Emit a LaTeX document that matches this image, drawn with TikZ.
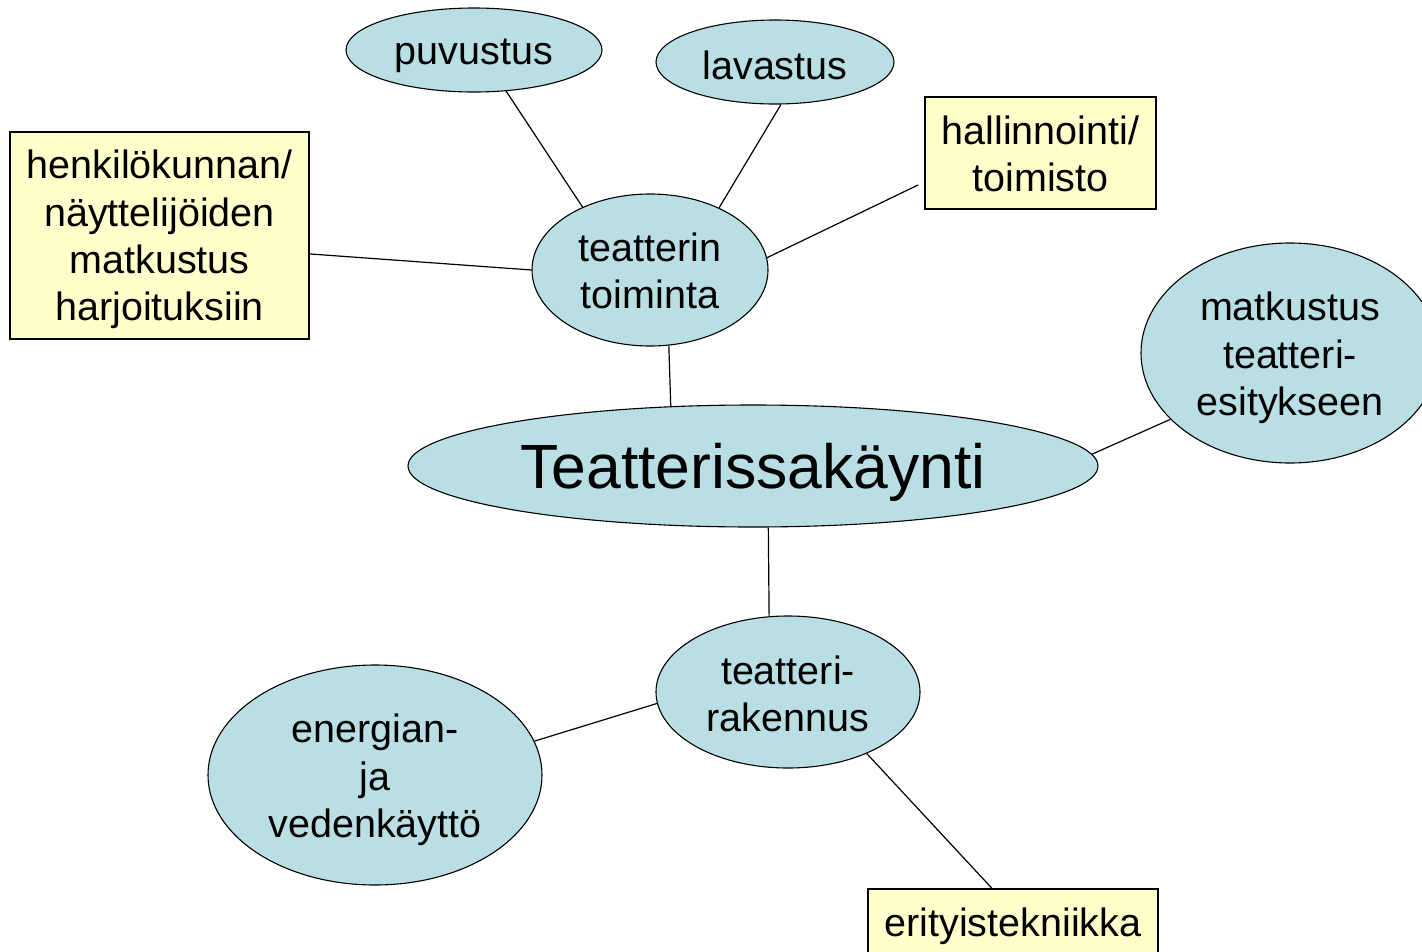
\documentclass[tikz,border=0pt]{standalone}
\usepackage{fontspec}
\setmainfont{Liberation Sans}
\usetikzlibrary{shapes.geometric}
\definecolor{ellfill}{RGB}{185,223,228}
\definecolor{boxfill}{RGB}{255,255,204}
\begin{document}
\begin{tikzpicture}[x=1pt,y=-1pt,
  ell/.style={ellipse,draw=black,line width=1.1pt,fill=ellfill,inner sep=0pt},
  bx/.style={rectangle,draw=black,line width=1.1pt,fill=boxfill,inner sep=0pt},
  txt/.style={align=center,inner sep=0pt,font=\fontsize{39.5}{47.3}\selectfont},
  bigtxt/.style={align=center,inner sep=0pt,font=\fontsize{62.5}{70}\selectfont},
  conn/.style={draw=black,line width=1.2pt}]
\useasboundingbox (0,0) rectangle (1422,951);
\clip (0,0) rectangle (1422,951);
\node[ell,minimum width=256pt,minimum height=84pt,
  label={[txt,yshift=-6pt]center:puvustus}] (puv) at (474,50) {};
\node[ell,minimum width=238pt,minimum height=84pt,
  label={[txt,yshift=-3pt]center:lavastus}] (lav) at (775,62) {};
\node[bx,minimum width=231pt,minimum height=112pt,
  label={[txt,yshift=-1pt]center:{hallinnointi/\\toimisto}}] (hal) at (1040.5,153) {};
\node[bx,minimum width=299pt,minimum height=207pt,
  label={[txt,yshift=-4pt]center:{henkilökunnan/\\näyttelijöiden\\matkustus\\harjoituksiin}}] (hen) at (159.5,235.5) {};
\node[ell,minimum width=236pt,minimum height=152pt,
  label={[txt,yshift=-1pt]center:{teatterin\\toiminta}}] (tt) at (650,270) {};
\node[ell,minimum width=298pt,minimum height=220pt,
  label={[txt,yshift=-5pt]center:{matkustus\\teatteri-\\esitykseen}}] (mat) at (1290,353) {};
\node[ell,minimum width=690pt,minimum height=122pt,
  label={[bigtxt,yshift=-6pt]center:Teatterissakäynti}] (T) at (753,466) {};
\node[ell,minimum width=264pt,minimum height=152pt,
  label={[txt,yshift=-2pt]center:{teatteri-\\rakennus}}] (rak) at (788,692) {};
\node[ell,minimum width=334pt,minimum height=220pt,
  label={[txt,yshift=-5pt]center:{energian-\\ja\\vedenkäyttö}}] (ene) at (375,775) {};
\node[bx,minimum width=290pt,minimum height=66pt,
  label={[txt,yshift=-4pt]center:erityistekniikka}] (eri) at (1013,922) {};
\draw[conn] (puv.-52) -- (tt.137);
\draw[conn] (lav.-82) -- (tt.42);
\draw[conn,shorten <=7pt] (hal.194) -- (tt.6);
\draw[conn] (hen.-7.6) -- (tt.180);
\draw[conn] (tt.-76) -- (T.144.3);
\draw[conn] (T.2) -- (mat.209);
\draw[conn] (T.-76) -- (rak.104);
\draw[conn] (rak.185) -- (ene.12);
\draw[conn] (rak.-38) -- (eri.122);
\end{tikzpicture}
\end{document}
